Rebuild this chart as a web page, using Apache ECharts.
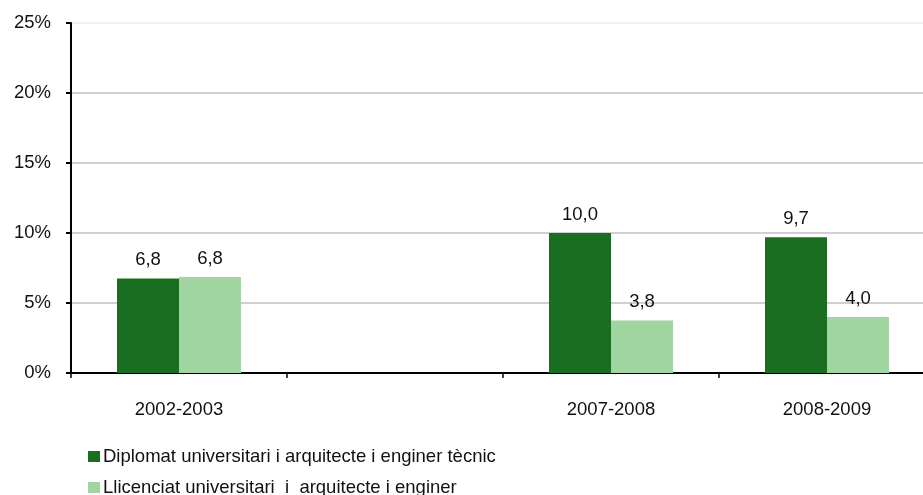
<!DOCTYPE html>
<html>
<head>
<meta charset="utf-8">
<script src="https://cdn.jsdelivr.net/npm/echarts@6/dist/echarts.min.js"></script>
<style>html,body{margin:0;padding:0;background:#fff}#c{width:923px;height:495px}</style>
</head>
<body>
<div id="c"></div>
<script>
var categories = ['2002-2003', '', '2007-2008', '2008-2009'];
var seriesNames = ['Diplomat universitari i arquitecte i enginer tècnic', 'Llicenciat universitari  i  arquitecte i enginer'];
var diplomat = [6.75, null, 10.0, 9.7];
var llicenciat = [6.85, null, 3.75, 4.0];
var yTicks = [0, 5, 10, 15, 20, 25];

var font = "'Liberation Sans', Arial, Helvetica, sans-serif";
function fmt(p) { return p.value == null ? '' : p.value.toFixed(1).replace('.', ','); }
var legendText = { fontFamily: font, fontSize: 18.5, color: '#111', padding: [0, 0, 0, -2] };
var chart = echarts.init(document.getElementById('c'));
chart.setOption({
  animation: false,
  textStyle: { fontFamily: font },
  grid: { left: 71, top: 23, width: 864, height: 350, containLabel: false, outerBoundsMode: 'none' },
  legend: [
    { orient: 'vertical', left: 83, top: 442, itemWidth: 12, itemHeight: 11, icon: 'rect', textStyle: legendText, data: [seriesNames[0]] },
    { orient: 'vertical', left: 83, top: 473, itemWidth: 12, itemHeight: 11, icon: 'rect', textStyle: legendText, data: [seriesNames[1]] }
  ],
  xAxis: {
    type: 'category', data: categories,
    axisLine: { lineStyle: { color: '#000', width: 2 } },
    axisTick: { show: true, length: 5, lineStyle: { color: '#000', width: 1.5 } },
    axisLabel: { fontSize: 18.5, color: '#111', margin: 27, fontFamily: font },
    splitLine: { show: false }
  },
  yAxis: {
    type: 'value', min: yTicks[0], max: yTicks[yTicks.length - 1], interval: 5,
    axisLine: { show: true, lineStyle: { color: '#000', width: 2 } },
    axisTick: { show: true, length: 5, inside: false, lineStyle: { color: '#000', width: 2 } },
    axisLabel: { fontSize: 18.5, color: '#111', margin: 20, fontFamily: font, formatter: '{value}%' },
    splitLine: { show: true, lineStyle: { color: ['#c0c0c0', '#c0c0c0', '#c0c0c0', '#c0c0c0', '#c0c0c0', '#ebebeb'], width: 1.5 } }
  },
  series: [
    {
      name: seriesNames[0], type: 'bar', data: diplomat, barWidth: 62, barGap: '0%',
      itemStyle: { color: '#1a6e1f' },
      label: { show: true, position: 'top', distance: 9, fontSize: 18.5, color: '#111', fontFamily: font, formatter: fmt }
    },
    {
      name: seriesNames[1], type: 'bar', data: llicenciat, barWidth: 62, barGap: '0%',
      itemStyle: { color: '#a0d4a0' },
      label: { show: true, position: 'top', distance: 9, fontSize: 18.5, color: '#111', fontFamily: font, formatter: fmt }
    }
  ]
});
</script>
</body>
</html>
